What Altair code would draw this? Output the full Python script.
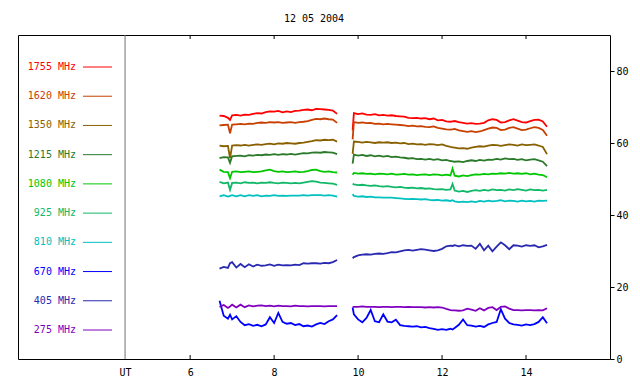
import altair as alt
import pandas as pd

TITLE = "12 05 2004"
FREQS = ["1755 MHz", "1620 MHz", "1350 MHz", "1215 MHz", "1080 MHz",
         "925 MHz", "810 MHz", "670 MHz", "405 MHz", "275 MHz"]
COLORS = ["#ff0000", "#c84000", "#886000", "#2a7a2a", "#00c800",
          "#10b868", "#00c0c0", "#0000ff", "#2828b0", "#8000c0"]
X_TICKS = [6, 8, 10, 12, 14]
Y_TICKS = [0, 20, 40, 60, 80]
UT_POS = 4.45

# time (UT hours) of the two observation segments
T1 = [6.7, 6.8, 6.9, 6.95, 7.0, 7.1, 7.2, 7.3, 7.4, 7.5, 7.6, 7.7, 7.8, 7.9, 8.0,
      8.1, 8.2, 8.3, 8.4, 8.5, 8.6, 8.7, 8.8, 8.9, 9.0, 9.1, 9.2, 9.3, 9.4, 9.5]
T2 = [9.87, 9.9, 10.0, 10.1, 10.2, 10.3, 10.4, 10.5, 10.6, 10.7, 10.8, 10.9, 11.0,
      11.1, 11.2, 11.3, 11.4, 11.5, 11.6, 11.7, 11.8, 11.9, 12.0, 12.1, 12.2, 12.25,
      12.3, 12.4, 12.5, 12.6, 12.7, 12.8, 12.9, 13.0, 13.1, 13.2, 13.3, 13.4, 13.5,
      13.6, 13.7, 13.8, 13.9, 14.0, 14.1, 14.2, 14.3, 14.4, 14.5]

S1755_A = [67.6, 67.5, 67.0, 66.4, 67.7, 67.8, 67.6, 67.9, 67.8, 68.1, 68.3, 68.2, 68.6,
           68.8, 68.7, 68.9, 68.5, 68.8, 68.6, 68.9, 69.0, 69.2, 69.3, 69.1, 69.5, 69.4,
           69.3, 69.2, 69.0, 68.1]
S1755_B = [63.5, 68.3, 68.0, 68.2, 67.9, 67.8, 68.0, 67.7, 67.8, 67.6, 67.7, 67.5, 67.4,
           67.3, 67.0, 66.9, 67.0, 66.8, 66.9, 66.6, 66.8, 66.3, 66.4, 66.0, 65.9, 66.0,
           66.1, 65.8, 65.6, 65.4, 65.5, 65.3, 65.4, 65.6, 66.3, 66.6, 66.4, 65.7, 65.8,
           66.3, 66.6, 66.2, 65.8, 65.7, 66.1, 66.4, 66.5, 66.0, 64.5]

S1620_A = [64.9, 65.0, 65.1, 62.7, 65.1, 65.2, 65.3, 65.2, 65.4, 65.3, 65.6, 65.7, 65.6,
           65.8, 65.7, 65.8, 65.6, 65.7, 65.8, 65.6, 65.8, 65.9, 66.1, 66.4, 66.7, 66.6,
           66.8, 66.6, 66.5, 65.6]
S1620_B = [61.0, 65.8, 65.6, 65.7, 65.5, 65.6, 65.3, 65.4, 65.2, 65.3, 65.2, 65.1, 65.0,
           64.9, 64.7, 64.8, 64.6, 64.7, 64.5, 64.4, 64.6, 64.2, 64.0, 63.8, 63.7, 63.8,
           63.9, 63.5, 63.3, 63.1, 63.3, 63.0, 63.2, 63.6, 64.0, 64.3, 64.2, 63.6, 63.7,
           64.2, 64.4, 64.0, 63.6, 63.7, 64.1, 64.4, 64.2, 63.6, 62.0]

S1350_A = [59.3, 59.1, 59.2, 55.8, 59.3, 59.4, 59.3, 59.5, 59.3, 59.5, 59.6, 59.5, 59.7,
           59.8, 59.6, 59.9, 59.8, 60.0, 59.9, 59.8, 60.0, 60.1, 60.3, 60.5, 60.8, 60.7,
           60.9, 60.8, 60.9, 60.4]
S1350_B = [57.0, 60.4, 60.3, 60.1, 60.3, 60.2, 60.0, 60.2, 60.1, 60.2, 60.0, 60.1, 59.9,
           60.0, 59.7, 59.8, 59.6, 59.7, 59.5, 59.7, 59.6, 59.4, 59.6, 59.2, 58.9, 58.8,
           58.7, 58.5, 58.6, 58.4, 58.7, 58.9, 59.1, 59.0, 59.3, 59.5, 59.4, 59.2, 59.4,
           59.6, 59.5, 59.3, 59.6, 59.4, 59.5, 59.6, 59.3, 58.9, 56.9]

S1215_A = [55.8, 56.1, 56.0, 54.5, 56.3, 56.4, 56.5, 56.3, 56.6, 56.5, 56.7, 56.6, 56.8,
           56.7, 56.9, 56.7, 56.9, 56.8, 57.0, 56.8, 57.0, 57.2, 57.1, 57.3, 57.4, 57.3,
           57.5, 57.4, 57.3, 56.9]
S1215_B = [54.3, 56.8, 56.5, 56.7, 56.4, 56.6, 56.3, 56.5, 56.2, 56.4, 56.1, 56.2, 56.0,
           55.9, 55.7, 55.8, 55.5, 55.6, 55.4, 55.6, 55.3, 55.5, 55.2, 55.3, 55.0, 54.9,
           54.8, 54.9, 54.7, 55.0, 55.2, 55.0, 55.3, 55.1, 55.4, 55.3, 55.6, 55.4, 55.7,
           55.5, 55.6, 55.3, 55.5, 55.2, 55.4, 55.5, 55.2, 54.8, 53.6]

S1080_A = [52.6, 52.0, 51.9, 50.2, 52.0, 52.1, 51.9, 52.0, 52.1, 51.9, 52.0, 52.1, 52.4,
           52.6, 52.2, 52.0, 52.1, 51.9, 52.0, 52.1, 51.9, 52.0, 52.2, 52.5, 52.6, 52.2,
           52.0, 52.1, 51.9, 51.8]
S1080_B = [51.2, 51.7, 51.5, 51.6, 51.4, 51.5, 51.3, 51.5, 51.4, 51.3, 51.5, 51.2, 51.3,
           51.4, 51.2, 51.3, 51.1, 51.2, 51.3, 51.1, 51.3, 51.2, 51.0, 51.2, 51.0, 52.9,
           50.9, 50.7, 51.0, 50.8, 51.1, 51.3, 51.2, 51.4, 51.3, 51.5, 51.4, 51.6, 51.5,
           51.7, 51.5, 51.6, 51.4, 51.6, 51.3, 51.5, 51.2, 51.1, 50.5]

S925_A = [49.2, 48.8, 49.0, 47.0, 48.9, 49.0, 48.8, 49.1, 48.9, 49.0, 48.8, 49.0, 48.9,
          49.1, 48.9, 48.8, 49.0, 48.9, 48.8, 48.9, 48.8, 49.0, 49.2, 49.4, 49.3, 49.0,
          48.9, 48.8, 48.7, 48.4]
S925_B = [48.7, 48.5, 48.3, 48.4, 48.2, 48.1, 48.2, 48.0, 47.9, 48.0, 47.8, 47.7, 47.8,
          47.6, 47.5, 47.6, 47.4, 47.5, 47.3, 47.4, 47.2, 47.1, 47.2, 47.0, 47.1, 48.6,
          46.8, 46.5, 46.7, 46.4, 46.7, 46.9, 46.7, 47.0, 46.8, 47.1, 46.9, 47.0, 46.8,
          47.1, 46.9, 47.2, 47.0, 46.8, 47.1, 46.9, 47.0, 46.8, 47.0]

S810_A = [45.2, 45.5, 45.1, 45.3, 45.5, 45.2, 45.5, 45.2, 45.5, 45.3, 45.5, 45.2, 45.4,
          45.3, 45.5, 45.3, 45.4, 45.3, 45.4, 45.4, 45.4, 45.5, 45.4, 45.5, 45.5, 45.5,
          45.4, 45.5, 45.4, 45.1]
S810_B = [45.8, 45.3, 45.1, 45.2, 45.0, 45.1, 44.9, 44.9, 44.8, 44.8, 44.8, 44.7, 44.6,
          44.5, 44.4, 44.5, 44.4, 44.3, 44.4, 44.2, 44.1, 44.2, 44.0, 44.1, 43.9, 44.1,
          43.8, 43.6, 43.7, 43.6, 43.8, 43.6, 43.9, 43.7, 44.0, 43.8, 43.9, 44.1, 43.8,
          44.0, 43.9, 43.7, 44.0, 43.8, 43.9, 43.7, 44.0, 43.9, 44.0]

S670_A = [16.2, 12.0, 11.2, 12.3, 11.0, 11.9, 10.3, 9.4, 9.7, 9.2, 9.5, 9.1, 9.6,
          11.6, 10.0, 12.8, 10.3, 9.8, 10.0, 9.4, 9.7, 9.1, 9.3, 9.0, 9.6, 10.0,
          9.7, 10.5, 11.0, 12.2]
S670_B = [14.3, 12.4, 11.0, 10.2, 11.4, 13.6, 10.5, 10.2, 12.4, 10.4, 10.2, 10.9, 9.4,
          9.2, 9.1, 9.0, 9.1, 8.8, 8.9, 8.6, 8.4, 8.1, 8.3, 8.1, 8.4, 8.2,
          8.6, 9.5, 11.0, 9.4, 9.3, 9.0, 9.2, 8.9, 9.6, 10.0, 10.3, 13.8, 11.2,
          10.0, 9.6, 9.5, 9.3, 9.6, 9.4, 9.7, 10.3, 11.6, 9.9]

S405_A = [25.1, 25.6, 25.3, 26.6, 26.9, 25.4, 26.4, 25.5, 26.3, 25.7, 26.2, 25.9, 26.0,
          26.3, 25.9, 26.2, 26.0, 26.1, 26.0, 26.2, 26.1, 26.6, 26.5, 26.6, 26.6, 26.5,
          26.7, 26.6, 26.9, 27.5]
S405_B = [28.0, 28.3, 28.8, 29.0, 29.1, 29.0, 29.2, 29.3, 29.2, 29.4, 29.7, 29.6, 29.9,
          30.2, 30.3, 30.1, 30.3, 30.5, 30.4, 30.2, 30.0, 30.2, 30.6, 31.3, 31.5, 31.4,
          31.6, 31.3, 31.6, 31.4, 31.5, 30.6, 32.0, 30.2, 31.5, 29.9, 31.2, 32.4, 31.6,
          30.5, 31.6, 31.5, 31.2, 31.6, 31.4, 31.6, 31.0, 31.3, 31.7]

S275_A = [14.5, 15.0, 14.2, 14.6, 15.1, 14.3, 15.1, 14.4, 14.9, 14.6, 14.8, 14.9, 14.7,
          14.8, 14.6, 14.8, 14.7, 14.7, 14.6, 14.8, 14.7, 14.7, 14.6, 14.7, 14.7, 14.7,
          14.6, 14.7, 14.7, 14.7]
S275_B = [14.5, 14.5, 14.5, 14.6, 14.5, 14.5, 14.5, 14.4, 14.5, 14.5, 14.4, 14.5, 14.5,
          14.4, 14.5, 14.4, 14.4, 14.4, 14.3, 14.4, 14.3, 14.4, 14.3, 13.9, 13.6, 13.5,
          13.5, 13.4, 13.5, 14.0, 13.7, 13.4, 14.1, 13.5, 14.2, 14.4, 13.6, 14.5, 14.6,
          14.0, 13.6, 13.6, 13.5, 13.6, 13.6, 13.5, 13.6, 13.5, 14.1]

SERIES = {
    "1755 MHz": (S1755_A, S1755_B), "1620 MHz": (S1620_A, S1620_B),
    "1350 MHz": (S1350_A, S1350_B), "1215 MHz": (S1215_A, S1215_B),
    "1080 MHz": (S1080_A, S1080_B), "925 MHz": (S925_A, S925_B),
    "810 MHz": (S810_A, S810_B), "670 MHz": (S670_A, S670_B),
    "405 MHz": (S405_A, S405_B), "275 MHz": (S275_A, S275_B),
}

rows = []
for f, (a, b) in SERIES.items():
    assert len(a) == len(T1), (f, "A", len(a))
    assert len(b) == len(T2), (f, "B", len(b))
    for t, v in zip(T1, a):
        rows.append({"t": t, "v": v, "freq": f, "seg": f + " a"})
    for t, v in zip(T2, b):
        rows.append({"t": t, "v": v, "freq": f, "seg": f + " b"})
df = pd.DataFrame(rows)

W, H = 592, 324
FONT = "DejaVu Sans Mono"

xscale = alt.Scale(domain=[1.9, 16], nice=False, zero=False)
yscale = alt.Scale(domain=[0, 90], nice=False, zero=True)
cscale = alt.Scale(domain=FREQS, range=COLORS)

xaxis = alt.Axis(values=[UT_POS] + X_TICKS,
                 labelExpr="datum.value < 5 ? 'UT' : datum.label",
                 ticks=False, domain=False, grid=False, labelPadding=8,
                 labelFont=FONT, labelFontSize=10, labelColor="black",
                 labelFlush=False, title=None)
yaxis = alt.Axis(values=Y_TICKS, orient="right", tickSize=4, tickColor="black",
                 labelPadding=2, domain=False, grid=False, labelFont=FONT,
                 labelFontSize=10, labelColor="black", labelFlush=False, title=None)

lines = alt.Chart(df).mark_line(strokeWidth=1.8).encode(
    x=alt.X("t:Q", scale=xscale, axis=xaxis),
    y=alt.Y("v:Q", scale=yscale, axis=yaxis),
    color=alt.Color("freq:N", scale=cscale, legend=None),
    detail="seg:N",
)

divider = alt.Chart(pd.DataFrame({"t": [UT_POS]})).mark_rule(
    color="#707070", strokeWidth=1).encode(x=alt.X("t:Q", scale=xscale))

tick_df = pd.DataFrame({"t": X_TICKS})
ticks_bottom = alt.Chart(tick_df).mark_rule(color="black", strokeWidth=1).encode(
    x=alt.X("t:Q", scale=xscale), y=alt.value(H - 4), y2=alt.value(H))
ticks_top = alt.Chart(tick_df).mark_rule(color="black", strokeWidth=1).encode(
    x=alt.X("t:Q", scale=xscale), y=alt.value(0), y2=alt.value(4))

leg_df = pd.DataFrame({"freq": FREQS})
leg_y = alt.Y("freq:N", sort=FREQS,
              scale=alt.Scale(type="point", domain=FREQS, range=[32, 295], padding=0),
              axis=None)
leg_text = alt.Chart(leg_df).mark_text(
    align="right", baseline="middle", font=FONT, fontSize=10, x=58).encode(
    y=leg_y, text="freq:N",
    color=alt.Color("freq:N", scale=cscale, legend=None))
leg_rule = alt.Chart(leg_df).mark_rule(strokeWidth=1).encode(
    y=leg_y, x=alt.value(65), x2=alt.value(94),
    color=alt.Color("freq:N", scale=cscale, legend=None))

chart = alt.layer(lines, divider, ticks_bottom, ticks_top, leg_text, leg_rule).resolve_scale(
    y="independent"
).properties(
    width=W, height=H,
    title=alt.TitleParams(TITLE, font=FONT, fontSize=10, fontWeight="normal",
                          color="black", offset=11, anchor="middle"),
    autosize=alt.AutoSizeParams(type="none"),
    padding={"left": 10, "top": 27, "right": 20, "bottom": 17},
    background="white",
).configure_view(stroke="black", strokeWidth=1)

chart.save("out.html", embed_options={"renderer": "svg", "actions": False})
